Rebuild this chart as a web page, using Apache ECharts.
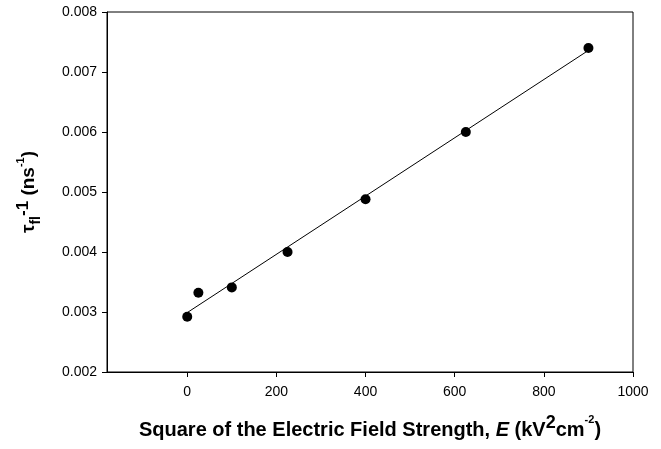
<!DOCTYPE html>
<html>
<head>
<meta charset="utf-8">
<script src="https://cdn.jsdelivr.net/npm/echarts@6/dist/echarts.min.js"></script>
<style>
  html, body { margin: 0; padding: 0; background: #fff; }
  #chart { width: 661px; height: 449px; }
</style>
</head>
<body>
<div id="chart"></div>
<script>
// Squared field strength E^2 (kV^2 cm^-2) and inverse fluorescence lifetime (ns^-1)
const fieldSquared = [0, 25, 100, 225, 400, 625, 900];
const inverseLifetime = [0.00292, 0.00332, 0.00341, 0.00400, 0.00488, 0.00600, 0.00740];

// Linear fit drawn between its end points
const fitX = [0, 900];
const fitY = [0.00299, 0.00736];

// Tick positions
const xTicks = [0, 200, 400, 600, 800, 1000];

const FONT = '"Liberation Sans", Arial, sans-serif';

const chart = echarts.init(document.getElementById('chart'), null, { renderer: 'canvas' });

chart.setOption({
  animation: false,
  backgroundColor: '#fff',
  grid: {
    left: 107, right: 28, top: 12, bottom: 77,
    show: true, borderColor: '#000', borderWidth: 1
  },
  xAxis: {
    type: 'value',
    min: -180, max: 1000,
    splitLine: { show: false },
    axisLine: { onZero: false, lineStyle: { color: '#000', width: 1 } },
    axisTick: { show: true, inside: false, length: 5, customValues: xTicks, lineStyle: { color: '#000' } },
    axisLabel: {
      customValues: xTicks, color: '#000', fontFamily: FONT, fontSize: 14, margin: 13,
      formatter: v => String(v)
    },
    name: '{b|Square of the Electric Field Strength, }{bi|E}{b| (kV}{supL|2}{b|cm}{sup|-2}{b|)}',
    nameLocation: 'middle',
    nameGap: 42,
    nameTextStyle: {
      rich: {
        b: { fontFamily: FONT, fontWeight: 'bold', fontSize: 20, color: '#000', lineHeight: 26, verticalAlign: 'bottom' },
        bi: { fontFamily: FONT, fontWeight: 'bold', fontStyle: 'italic', fontSize: 20, color: '#000', lineHeight: 26, verticalAlign: 'bottom' },
        supL: { fontFamily: FONT, fontWeight: 'bold', fontSize: 18, color: '#000', lineHeight: 18, verticalAlign: 'top' },
        sup: { fontFamily: FONT, fontWeight: 'bold', fontSize: 11, color: '#000', lineHeight: 13, verticalAlign: 'top' }
      }
    }
  },
  yAxis: {
    type: 'value',
    min: 0.002, max: 0.008, interval: 0.001,
    splitLine: { show: false },
    axisLine: { show: true, onZero: false, lineStyle: { color: '#000', width: 1 } },
    axisTick: { show: true, inside: false, length: 5, lineStyle: { color: '#000' } },
    axisLabel: {
      color: '#000', fontFamily: FONT, fontSize: 14, margin: 10,
      formatter: v => v.toFixed(3)
    },
    name: '{t|τ}{sub|fl}{supL|-1}{b| (ns}{sup|-1}{b|)}',
    nameLocation: 'middle',
    nameRotate: 90,
    nameGap: 64,
    nameTextStyle: {
      rich: {
        t: { fontFamily: FONT, fontWeight: 'bold', fontSize: 19, color: '#000', lineHeight: 28, verticalAlign: 'middle' },
        b: { fontFamily: FONT, fontWeight: 'bold', fontSize: 19, color: '#000', lineHeight: 28, verticalAlign: 'middle' },
        sub: { fontFamily: FONT, fontWeight: 'bold', fontSize: 14, color: '#000', lineHeight: 14, verticalAlign: 'bottom' },
        supL: { fontFamily: FONT, fontWeight: 'bold', fontSize: 17, color: '#000', lineHeight: 17, verticalAlign: 'top' },
        sup: { fontFamily: FONT, fontWeight: 'bold', fontSize: 11, color: '#000', lineHeight: 13, verticalAlign: 'top' }
      }
    }
  },
  series: [
    {
      name: 'fit',
      type: 'line',
      data: fitX.map((x, i) => [x, fitY[i]]),
      showSymbol: false,
      symbol: 'none',
      lineStyle: { color: '#000', width: 1 },
      z: 2
    },
    {
      name: 'measured',
      type: 'scatter',
      data: fieldSquared.map((x, i) => [x, inverseLifetime[i]]),
      symbol: 'circle',
      symbolSize: 10,
      itemStyle: { color: '#000', opacity: 1 },
      z: 3
    }
  ]
});
</script>
</body>
</html>
